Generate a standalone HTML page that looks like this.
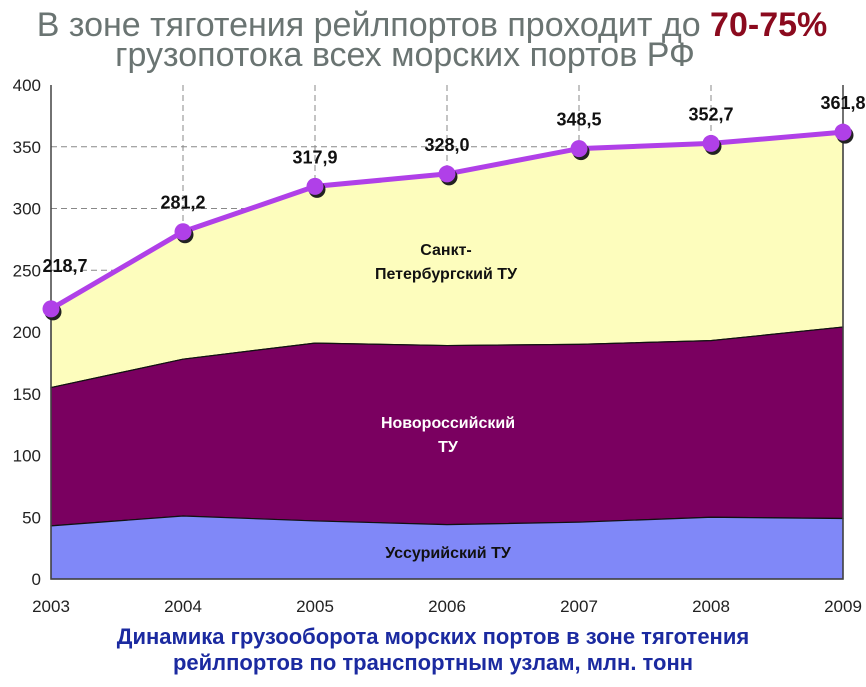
<!DOCTYPE html>
<html><head><meta charset="utf-8"><style>
body{margin:0;background:#fff;width:866px;height:682px;overflow:hidden;font-family:"Liberation Sans",sans-serif}
</style></head><body>
<svg width="866" height="682" id="svg" font-family="Liberation Sans, sans-serif">
<text x="432" y="36" text-anchor="middle" font-size="34" fill="#6a7472">В зоне тяготения рейлпортов проходит до <tspan fill="#8b0a1e" font-weight="bold">70-75%</tspan></text>
<text x="405" y="66" text-anchor="middle" font-size="34" fill="#6a7472">грузопотока всех морских портов РФ</text>
<g id="plot"></g>
<text x="433" y="644" text-anchor="middle" font-size="22" font-weight="bold" fill="#1b2aa0">Динамика грузооборота морских портов в зоне тяготения</text>
<text x="433" y="670" text-anchor="middle" font-size="22" font-weight="bold" fill="#1b2aa0">рейлпортов по транспортным узлам, млн. тонн</text>
</svg>
<script>
const years=["2003","2004","2005","2006","2007","2008","2009"];
const ussuri=[43,51,47,44,46,50,49];
const novo=[112,127,144,145,144,143,155];
const totals=[218.7,281.2,317.9,328.0,348.5,352.7,361.8];
const totalLabels=["218,7","281,2","317,9","328,0","348,5","352,7","361,8"];
const yTicks=[0,50,100,150,200,250,300,350,400];
const L=51,R=843,T=85,B=579,maxY=400;
const x=i=>L+(R-L)*i/(years.length-1);
const y=v=>B-(B-T)*v/maxY;
const NS="http://www.w3.org/2000/svg",g=document.getElementById('plot');
function mk(t,a,p){const e=document.createElementNS(NS,t);for(const k in a)e.setAttribute(k,a[k]);(p||g).appendChild(e);return e;}
yTicks.forEach(v=>{if(v>0&&v<400){const l=mk('line',{x1:L,x2:R,y1:y(v),y2:y(v),stroke:'#888','stroke-dasharray':'6,4'});}
const t=mk('text',{x:L-10,y:y(v)+6,'text-anchor':'end','font-size':'17',fill:'#222'});t.textContent=v;});
years.forEach((yr,i)=>{const l=mk('line',{x1:x(i),x2:x(i),y1:T,y2:B,stroke:'#888','stroke-dasharray':'6,4'});
const t=mk('text',{x:x(i),y:B+33,'text-anchor':'middle','font-size':'17',fill:'#222'});t.textContent=yr;});
const base=years.map(()=>0),c1=ussuri.slice(),c2=ussuri.map((v,i)=>v+novo[i]);
function area(lo,hi,fill,name){let d='M'+years.map((_,i)=>x(i)+','+y(hi[i])).join('L');for(let i=years.length-1;i>=0;i--)d+='L'+x(i)+','+y(lo[i]);d+='Z';const p=mk('path',{d,fill,stroke:'#111','stroke-width':'1.2'});}
area(c2,totals,'#fdfdbd','area-spb');
area(c1,c2,'#7a0060','area-novorossiysk');
area(base,c1,'#8088f8','area-ussuri');
const ax=mk('path',{d:`M${L},${T}L${L},${B}L${R},${B}L${R},${T}`,fill:'none',stroke:'#444','stroke-width':'1.5'});
function lbl(tx,xx,yy,fill,name){const t=mk('text',{x:xx,y:yy,'text-anchor':'middle','font-size':'16','font-weight':'bold',fill});t.textContent=tx;}
lbl('Санкт-',446,255,'#111','label-spb');lbl('Петербургский ТУ',446,279,'#111','label-spb-2');
lbl('Новороссийский',448,428,'#fff','label-novo');lbl('ТУ',448,452,'#fff','label-novo-2');
lbl('Уссурийский ТУ',448,558,'#111','label-ussuri');
const pl=mk('polyline',{points:totals.map((v,i)=>x(i)+','+y(v)).join(' '),fill:'none',stroke:'#b040e8','stroke-width':'5'});
totals.forEach((v,i)=>{const s=mk('circle',{cx:x(i)+2,cy:y(v)+3,r:8.5,fill:'#222'});
const c=mk('circle',{cx:x(i),cy:y(v),r:8.5,fill:'#b040e8'});
const t=mk('text',{x:i==0?x(i)+14:x(i),y:y(v)-(i==0?37:23),'text-anchor':'middle','font-size':'18','font-weight':'bold',fill:'#111'});t.textContent=totalLabels[i];});
</script>
</body></html>
